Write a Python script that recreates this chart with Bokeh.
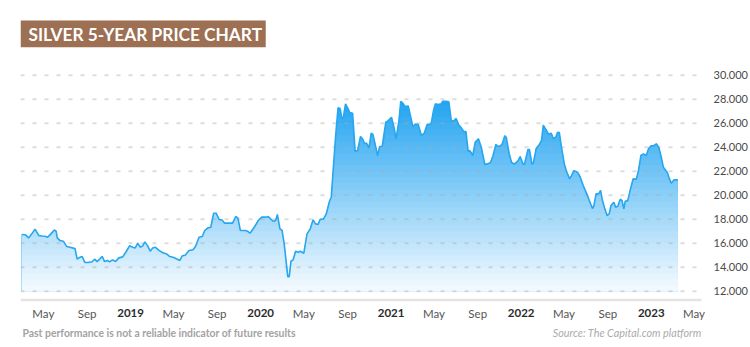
import numpy as np
import pandas as pd
from bokeh.plotting import figure
from bokeh.models import (Range1d, LinearAxis, FixedTicker, ColumnDataSource, Label,
                          LabelSet, BoxAnnotation)
from bokeh.core.properties import value
from bokeh.embed import file_html
from bokeh.resources import INLINE

# ---------------- data ----------------
dates_2018 = ["2018-03-02", "2018-03-12", "2018-03-21", "2018-03-30", "2018-04-08", "2018-04-18",
              "2018-04-27", "2018-05-06", "2018-05-13", "2018-05-23", "2018-06-01", "2018-06-06",
              "2018-06-09", "2018-06-17", "2018-06-26", "2018-07-06", "2018-07-15", "2018-07-29",
              "2018-08-04", "2018-08-12", "2018-08-18", "2018-08-26", "2018-09-04", "2018-09-15",
              "2018-09-22", "2018-09-29", "2018-10-06", "2018-10-13", "2018-10-20", "2018-10-28",
              "2018-11-03", "2018-11-11", "2018-11-20", "2018-11-29", "2018-12-10", "2018-12-20",
              "2018-12-29"]
prices_2018 = [16.72, 16.70, 16.45, 16.80, 17.17, 16.65, 16.60, 16.58, 16.50, 16.80, 17.10, 17.00,
               16.45, 16.22, 16.17, 15.72, 15.67, 15.55, 14.67, 14.83, 14.89, 14.39, 14.39, 14.45,
               14.67, 14.47, 14.67, 14.90, 14.47, 14.56, 14.45, 14.61, 14.47, 14.78, 14.86, 15.33,
               15.78]

dates_2019 = ["2019-01-07", "2019-01-14", "2019-01-21", "2019-01-28", "2019-02-04", "2019-02-10",
              "2019-02-18", "2019-02-25", "2019-03-04", "2019-03-11", "2019-03-20", "2019-03-31",
              "2019-04-12", "2019-04-21", "2019-04-30", "2019-05-08", "2019-05-19", "2019-05-26",
              "2019-06-03", "2019-06-14", "2019-06-25", "2019-07-02", "2019-07-12", "2019-07-21",
              "2019-07-28", "2019-08-06", "2019-08-14", "2019-08-22", "2019-08-29", "2019-09-07",
              "2019-09-14", "2019-09-22", "2019-10-03", "2019-10-14", "2019-10-23", "2019-10-29",
              "2019-11-05", "2019-11-19", "2019-11-25", "2019-12-02", "2019-12-14", "2019-12-25"]
prices_2019 = [15.67, 15.61, 16.00, 15.67, 15.78, 16.11, 15.78, 15.33, 15.61, 15.67, 15.45, 15.22,
               15.11, 14.89, 14.83, 14.72, 14.56, 14.95, 15.00, 15.39, 15.45, 15.72, 16.50, 16.56,
               17.06, 17.28, 17.33, 18.50, 18.50, 17.95, 17.95, 17.67, 17.67, 17.67, 18.22, 18.11,
               17.06, 17.06, 17.00, 16.83, 17.33, 17.89]

dates_2020 = ["2020-01-04", "2020-01-15", "2020-01-22", "2020-02-05", "2020-02-12", "2020-02-17",
              "2020-02-24", "2020-03-01", "2020-03-07", "2020-03-17", "2020-03-21", "2020-03-26",
              "2020-04-01", "2020-04-08", "2020-04-15", "2020-04-21", "2020-05-01", "2020-05-10",
              "2020-05-19", "2020-05-27", "2020-06-03", "2020-06-10", "2020-06-16", "2020-06-25",
              "2020-07-03", "2020-07-12", "2020-07-17", "2020-07-23", "2020-07-29", "2020-08-05",
              "2020-08-11", "2020-08-16", "2020-08-20", "2020-08-26", "2020-09-01", "2020-09-07",
              "2020-09-15", "2020-09-22", "2020-09-29", "2020-10-07", "2020-10-13", "2020-10-18",
              "2020-10-24", "2020-10-31", "2020-11-06", "2020-11-11", "2020-11-17", "2020-11-24",
              "2020-11-30", "2020-12-07", "2020-12-17", "2020-12-24"]
prices_2020 = [18.17, 18.17, 18.22, 17.83, 17.89, 18.39, 17.20, 17.06, 15.95, 13.22, 13.22, 14.50,
               14.61, 15.33, 15.25, 15.33, 15.17, 16.78, 17.19, 17.95, 17.61, 17.56, 18.00, 18.00,
               18.44, 19.50, 19.83, 22.33, 24.83, 27.28, 27.22, 26.36, 26.50, 27.61, 27.28, 26.89,
               26.83, 23.67, 23.72, 24.89, 24.69, 24.33, 24.33, 23.94, 25.17, 25.06, 24.28, 23.31,
               24.06, 24.06, 26.08, 26.22]

dates_2021 = ["2021-01-02", "2021-01-09", "2021-01-15", "2021-01-23", "2021-01-28", "2021-02-03",
              "2021-02-09", "2021-02-18", "2021-02-24", "2021-03-03", "2021-03-10", "2021-03-18",
              "2021-03-27", "2021-04-04", "2021-04-12", "2021-04-23", "2021-04-30", "2021-05-05",
              "2021-05-13", "2021-05-21", "2021-05-26", "2021-06-04", "2021-06-12", "2021-06-19",
              "2021-06-27", "2021-07-02", "2021-07-10", "2021-07-17", "2021-07-24", "2021-07-30",
              "2021-08-05", "2021-08-10", "2021-08-18", "2021-08-25", "2021-09-03", "2021-09-11",
              "2021-09-21", "2021-09-28", "2021-10-07", "2021-10-14", "2021-10-22", "2021-10-28",
              "2021-11-04", "2021-11-09", "2021-11-16", "2021-11-20", "2021-11-28", "2021-12-05",
              "2021-12-13", "2021-12-23", "2021-12-29"]
prices_2021 = [26.50, 25.67, 24.69, 26.22, 27.83, 27.67, 27.39, 27.44, 26.64, 25.72, 25.94, 25.89,
               24.97, 25.17, 25.90, 25.90, 27.06, 27.61, 27.56, 27.61, 27.83, 27.83, 27.78, 26.17,
               26.22, 26.40, 25.84, 25.61, 25.30, 25.30, 23.67, 23.72, 23.31, 24.42, 24.70, 24.00,
               22.56, 22.61, 22.72, 23.31, 24.22, 24.06, 24.11, 24.28, 24.95, 24.83, 23.50, 22.72,
               22.60, 22.86, 23.22]

dates_2022 = ["2022-01-06", "2022-01-10", "2022-01-20", "2022-01-24", "2022-01-31", "2022-02-04",
              "2022-02-12", "2022-02-21", "2022-02-27", "2022-03-04", "2022-03-12", "2022-03-19",
              "2022-03-26", "2022-04-01", "2022-04-08", "2022-04-13", "2022-04-18", "2022-04-24",
              "2022-05-02", "2022-05-09", "2022-05-17", "2022-05-22", "2022-05-29", "2022-06-08",
              "2022-06-15", "2022-06-24", "2022-07-04", "2022-07-13", "2022-07-20", "2022-07-24",
              "2022-07-30", "2022-08-06", "2022-08-12", "2022-08-16", "2022-08-23", "2022-08-30",
              "2022-09-05", "2022-09-10", "2022-09-18", "2022-09-23", "2022-09-29", "2022-10-06",
              "2022-10-11", "2022-10-16", "2022-10-20", "2022-10-27", "2022-11-03", "2022-11-11",
              "2022-11-20", "2022-11-26", "2022-12-03", "2022-12-10", "2022-12-18", "2022-12-24",
              "2022-12-31"]
prices_2022 = [22.61, 22.56, 23.81, 23.81, 22.60, 22.67, 23.89, 24.22, 24.56, 25.84, 25.45, 25.06,
               25.17, 24.72, 24.83, 25.25, 25.22, 24.00, 22.61, 21.92, 21.36, 21.64, 22.05, 21.92,
               21.56, 20.81, 20.11, 19.42, 18.89, 19.14, 20.11, 20.11, 20.39, 19.69, 18.94, 18.31,
               18.44, 19.14, 19.42, 19.00, 19.08, 19.67, 19.55, 18.86, 19.50, 19.55, 20.44, 21.36,
               21.33, 22.05, 23.31, 23.44, 23.31, 23.86, 24.11]

dates_2023 = ["2023-01-07", "2023-01-15", "2023-01-22", "2023-01-28", "2023-02-04", "2023-02-15",
              "2023-02-21", "2023-02-26", "2023-03-06", "2023-03-16"]
prices_2023 = [24.11, 24.28, 24.00, 23.31, 22.33, 21.89, 21.36, 21.00, 21.28, 21.28]

tick_dates = ["2018-05-01", "2018-09-01", "2019-01-01", "2019-05-01", "2019-09-01", "2020-01-01",
              "2020-05-01", "2020-09-01", "2021-01-01", "2021-05-01", "2021-09-01", "2022-01-01",
              "2022-05-01", "2022-09-01", "2023-01-01", "2023-05-01"]
tick_labels = ["May", "Sep", "2019", "May", "Sep", "2020", "May", "Sep", "2021", "May", "Sep",
               "2022", "May", "Sep", "2023", "May"]

y_ticks = [12, 14, 16, 18, 20, 22, 24, 26, 28, 30]
y_tick_labels = ["12.000", "14.000", "16.000", "18.000", "20.000", "22.000", "24.000", "26.000",
                 "28.000", "30.000"]

title_text = "SILVER 5-YEAR PRICE CHART"
note_text = "Past performance is not a reliable indicator of future results"
source_text = "Source: The Capital.com platform"

# ---------------- assemble ----------------
dates = pd.to_datetime(dates_2018 + dates_2019 + dates_2020 + dates_2021 + dates_2022 + dates_2023)
prices = np.array(prices_2018 + prices_2019 + prices_2020 + prices_2021 + prices_2022 + prices_2023)

W, H = 750, 347
B_LEFT, B_RIGHT = 20, 34
FRAME_W = W - B_LEFT - B_RIGHT
PLOT_RIGHT_PX = 706  # visible right end of grid / baseline
x_start = pd.Timestamp("2018-02-26")
x_end = pd.Timestamp("2023-06-19")
y_lo, y_hi = 7.31, 36.225


def ms(ts):
    return ts.value / 1e6


def px_x(px):
    """canvas pixel x -> data x (ms) for layout placement"""
    return ms(x_start) + (px - B_LEFT) / FRAME_W * (ms(x_end) - ms(x_start))


def px_y(py):
    """canvas pixel y -> data y for layout placement"""
    return y_hi - py / H * (y_hi - y_lo)


p = figure(width=W, height=H, x_axis_type="datetime",
           x_range=Range1d(ms(x_start), ms(x_end)), y_range=Range1d(y_lo, y_hi),
           x_axis_location=None, y_axis_location=None,
           output_backend="svg", toolbar_location=None,
           min_border_left=B_LEFT, min_border_right=B_RIGHT, min_border_top=0, min_border_bottom=0)
p.outline_line_color = None
p.grid.visible = False
p.background_fill_color = "white"
p.border_fill_color = "white"

# gradient area (stacked bands, darkest first)
base = 12.0
edges = np.linspace(12.0, 28.5, 34)
top_rgb = np.array([34, 164, 241])
bot_rgb = np.array([246, 251, 255])
for k in range(len(edges) - 1, 0, -1):
    upper = np.inf if k == len(edges) - 1 else edges[k]
    t = np.clip(((edges[k - 1] + edges[k]) / 2 - 12.0) / 16.0, 0, 1)
    rgb = (bot_rgb + (top_rgb - bot_rgb) * t).astype(int)
    col = "#%02x%02x%02x" % tuple(rgb)
    p.varea(x=dates, y1=base, y2=np.minimum(prices, upper), fill_color=col, fill_alpha=1.0)

# dotted horizontal grid lines at the y ticks, drawn over the fill
p.segment(x0=px_x(B_LEFT), x1=px_x(PLOT_RIGHT_PX), y0=y_ticks, y1=y_ticks,
          line_color="#a9a9a9", line_alpha=0.4, line_dash="4 8", line_width=2)

p.line(dates, prices, line_color="#27a7f0", line_width=1.6)

# right y-axis (labels only)
yaxis = LinearAxis(ticker=FixedTicker(ticks=y_ticks),
                   major_label_overrides={t: l for t, l in zip(y_ticks, y_tick_labels)},
                   axis_line_color=None, major_tick_line_color=None, minor_tick_line_color=None,
                   major_label_standoff=-4, major_label_text_font="Lato",
                   major_label_text_font_size="11px", major_label_text_color="#4a4a4a")
p.add_layout(yaxis, "right")

# light baseline under the chart
p.segment(x0=px_x(B_LEFT), x1=px_x(PLOT_RIGHT_PX), y0=px_y(299.5), y1=px_y(299.5),
          line_color="#e4e4e4", line_width=2.5)

# x tick labels
tick_dt = pd.to_datetime(tick_dates)
is_year = [l.isdigit() for l in tick_labels]
lab_y = px_y(312.5)
src_m = ColumnDataSource(dict(x=[d for d, y in zip(tick_dt, is_year) if not y],
                              y=[lab_y] * (len(tick_labels) - sum(is_year)),
                              text=[l for l, y in zip(tick_labels, is_year) if not y]))
src_y = ColumnDataSource(dict(x=[d for d, y in zip(tick_dt, is_year) if y],
                              y=[lab_y] * sum(is_year),
                              text=[l for l, y in zip(tick_labels, is_year) if y]))
p.add_layout(LabelSet(x="x", y="y", text="text", source=src_m, text_font=value("Lato"),
                      text_font_size=value("11.5px"), text_color="#555555", text_align="center",
                      text_baseline="middle"))
p.add_layout(LabelSet(x="x", y="y", text="text", source=src_y, text_font=value("Lato"),
                      text_font_style="bold", text_font_size=value("11.5px"), text_color="#2b2b2b",
                      text_align="center", text_baseline="middle"))

# footer
p.add_layout(Label(x=px_x(22), y=px_y(332), text=note_text, text_font="Lato", text_font_style="bold",
                   text_font_size="10.4px", text_color="#a3a3a3", text_baseline="middle", text_align="left"))
p.add_layout(Label(x=px_x(706), y=px_y(332), text=source_text, text_font="Lato", text_font_style="italic",
                   text_font_size="10.8px", text_color="#ababab", text_baseline="middle", text_align="right"))

# title box
p.add_layout(BoxAnnotation(left=px_x(20), right=px_x(267), top=px_y(20), bottom=px_y(46.7),
                           fill_color="#9d6f53", fill_alpha=1.0, line_color=None, level="annotation"))
p.add_layout(Label(x=px_x(28), y=px_y(33.8), text=title_text, text_font="Lato", text_font_style="bold",
                   text_font_size="17.3px", text_color="white", text_baseline="middle", text_align="left"))

open("out.html", "w").write(file_html(p, INLINE))
